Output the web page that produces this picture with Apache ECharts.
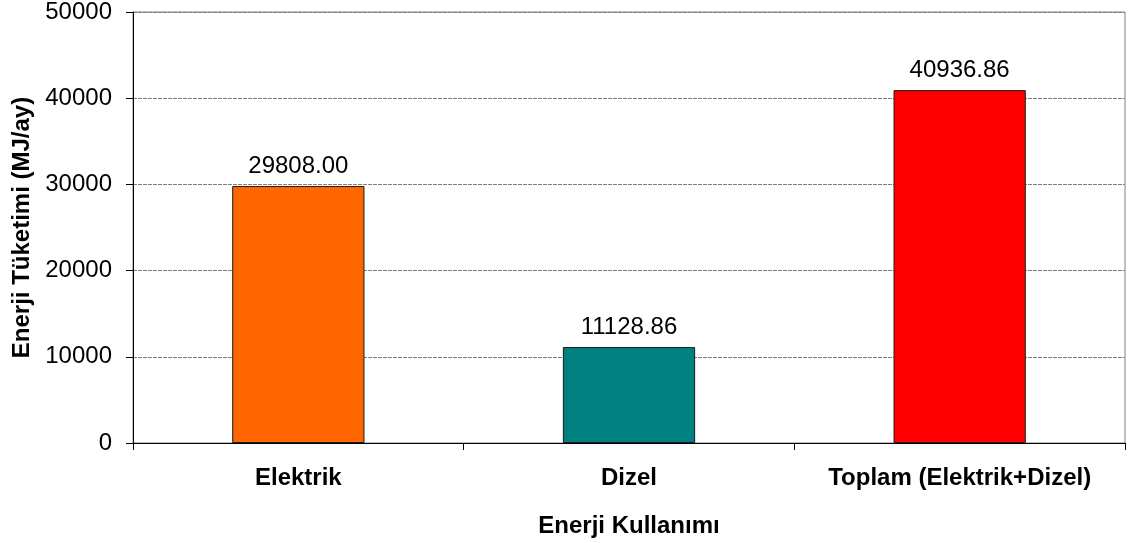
<!DOCTYPE html>
<html>
<head>
<meta charset="utf-8">
<title>Enerji Tüketimi</title>
<script src="https://cdn.jsdelivr.net/npm/echarts@6/dist/echarts.min.js"></script>
<style>
  html, body { margin: 0; padding: 0; background: #ffffff; }
  #chart { width: 1130px; height: 543px; }
</style>
</head>
<body>
<div id="chart"></div>
<script>
// Monthly energy use by source (MJ/ay)
const categories = ['Elektrik', 'Dizel', 'Toplam (Elektrik+Dizel)'];
const consumption = [29808.00, 11128.86, 40936.86];
const barColors = ['#FF6600', '#008080', '#FF0000'];
const yTicks = { min: 0, max: 50000, step: 10000 };

const FONT = '"Liberation Sans", Arial, sans-serif';

const chart = echarts.init(document.getElementById('chart'), null, { renderer: 'canvas' });

chart.setOption({
  backgroundColor: '#ffffff',
  animation: false,
  grid: {
    left: 133,
    right: 5,
    top: 12,
    bottom: 99,
    show: true,
    borderColor: '#808080',
    borderWidth: 1,
    backgroundColor: 'transparent'
  },
  xAxis: {
    type: 'category',
    data: categories,
    name: 'Enerji Kullanımı',
    nameLocation: 'middle',
    nameGap: 71,
    nameTextStyle: { fontFamily: FONT, fontSize: 24, fontWeight: 'bold', color: '#000' },
    boundaryGap: true,
    axisLine: { show: true, lineStyle: { color: '#000', width: 1 } },
    axisTick: { show: true, interval: 0, alignWithLabel: false, length: 7, lineStyle: { color: '#000' } },
    axisLabel: {
      interval: 0,
      hideOverlap: false,
      margin: 23,
      fontFamily: FONT,
      fontSize: 24,
      fontWeight: 'bold',
      color: '#000'
    },
    splitLine: { show: false }
  },
  yAxis: {
    type: 'value',
    min: yTicks.min,
    max: yTicks.max,
    interval: yTicks.step,
    name: 'Enerji Tüketimi (MJ/ay)',
    nameLocation: 'middle',
    nameGap: 98,
    nameTextStyle: { fontFamily: FONT, fontSize: 24, fontWeight: 'bold', color: '#000' },
    axisLine: { show: true, lineStyle: { color: '#000', width: 1 } },
    axisTick: { show: true, inside: false, length: 7, lineStyle: { color: '#000' } },
    axisLabel: {
      margin: 21,
      fontFamily: FONT,
      fontSize: 24,
      color: '#000',
      formatter: v => String(v)
    },
    splitLine: { show: true, lineStyle: { color: '#808080', width: 1, type: [4, 1] } }
  },
  series: [{
    type: 'bar',
    barWidth: '40%',
    data: consumption.map((v, i) => ({
      value: v,
      itemStyle: { color: barColors[i], borderColor: '#1a1a1a', borderWidth: 1 }
    })),
    label: {
      show: true,
      position: 'top',
      distance: 8,
      fontFamily: FONT,
      fontSize: 24,
      color: '#000',
      formatter: p => p.value.toFixed(2)
    }
  }]
});
</script>
</body>
</html>
